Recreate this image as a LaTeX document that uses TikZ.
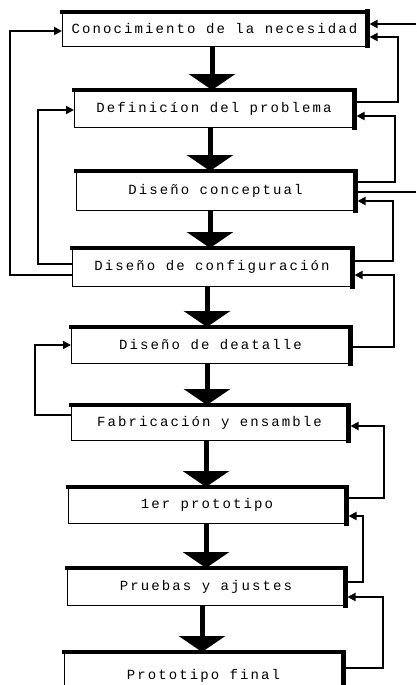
\documentclass[tikz,border=0pt]{standalone}
\usepackage{fontspec}
\newfontfamily\dotfont[LetterSpace=15]{Liberation Mono}
\usetikzlibrary{arrows.meta}
\tikzset{
  x=1pt, y=-1pt,
  box/.style={draw, line width=0.8pt, inner sep=0pt, outer sep=0pt,
    font=\dotfont\fontsize{14}{16}\selectfont},
  bigarr/.style={line width=5pt, -{Triangle[length=16pt,width=46pt]}},
  fb/.style={line width=1.8pt, line join=miter, -{Triangle[length=8pt,width=8pt]}},
  fbplain/.style={line width=1.8pt},
  topedge/.style={line width=3.5pt, line cap=rect},
  rightedge/.style={line width=5pt, line cap=rect}
}
\begin{document}
\begin{tikzpicture}
\clip (0,0) rectangle (416,685);
\fill[white] (0,0) rectangle (416,685);

\node[box, minimum width=305pt, minimum height=34pt] (b1) at (214.5,29) {Conocimiento de la necesidad};
\node[box, minimum width=280pt, minimum height=37pt] (b2) at (214,108.5) {Definicíon del problema};
\node[box, minimum width=279pt, minimum height=39pt] (b3) at (215.5,190.5) {Diseño conceptual};
\node[box, minimum width=280pt, minimum height=38pt] (b4) at (212,267) {Diseño de configuración};
\node[box, minimum width=279pt, minimum height=36pt] (b5) at (210.5,345) {Diseño de deatalle};
\node[box, minimum width=277pt, minimum height=35pt] (b6) at (209.5,422.5) {Fabricación y ensamble};
\node[box, minimum width=278pt, minimum height=36pt] (b7) at (207,505) {1er prototipo};
\node[box, minimum width=278pt, minimum height=37pt] (b8) at (206,586.5) {Pruebas y ajustes};
\node[box, minimum width=279pt, minimum height=48pt] (b9) at (203.5,676) {Prototipo final};

% thick top and right edges
\foreach \n in {b1,b2,b3,b4,b5,b6,b7,b8,b9}{
  \draw[topedge] (\n.north west) -- (\n.north east);
  \draw[rightedge] (\n.north east) -- (\n.south east);
}

% main downward arrows
\coordinate (x1) at (212,0);
\coordinate (x2) at (210,0);
\coordinate (x3) at (210,0);
\coordinate (x4) at (207,0);
\coordinate (x5) at (207,0);
\coordinate (x6) at (206,0);
\coordinate (x7) at (206,0);
\coordinate (x8) at (202,0);
\draw[bigarr] (b1.south -| x1) -- (b2.north -| x1);
\draw[bigarr] (b2.south -| x2) -- (b3.north -| x2);
\draw[bigarr] (b3.south -| x3) -- (b4.north -| x3);
\draw[bigarr] (b4.south -| x4) -- (b5.north -| x4);
\draw[bigarr] (b5.south -| x5) -- (b6.north -| x5);
\draw[bigarr] (b6.south -| x6) -- (b7.north -| x6);
\draw[bigarr] (b7.south -| x7) -- (b8.north -| x7);
\draw[bigarr] (b8.south -| x8) -- (b9.north -| x8);

% left feedback loops
\draw[fb] ([yshift=-8pt]b4.west) -- ++(-62,0) |- ([yshift=-2pt]b1.west);
\draw[fb] ([yshift=3pt]b4.west) -- ++(-34,0) |- ([yshift=-1.5pt]b2.west);
\draw[fb] ([yshift=7.5pt]b6.west) -- ++(-36,0) |- (b5.west);

% right feedback loops
\coordinate (in1) at (416,24);
\coordinate (in2) at (416,192);
\draw[fb] (in1) -- ([xshift=2.5pt,yshift=5pt]b1.east);
\draw[fb] ([yshift=6.5pt]b2.east) -- ++(44,0) |- ([xshift=2.5pt,yshift=-8pt]b1.east);
\draw[fb] ([yshift=8.5pt]b3.east) -- ++(40,0) |- ([xshift=2.5pt,yshift=-7.5pt]b2.east);
\draw[fbplain] (in2) -- ([yshift=-1.5pt]b3.east);
\draw[fb] ([yshift=6pt]b4.east) -- ++(41,0) |- ([xshift=2.5pt,yshift=-10.5pt]b3.east);
\draw[fb] ([yshift=-2pt]b5.east) -- ++(44,0) |- ([xshift=2.5pt,yshift=-8pt]b4.east);
\draw[fb] ([yshift=7pt]b7.east) -- ++(38,0) |- ([xshift=2.5pt,yshift=-3.5pt]b6.east);
\draw[fb] ([yshift=4.5pt]b8.east) -- ++(18,0) |- ([xshift=2.5pt,yshift=-11pt]b7.east);
\draw[fb] ([yshift=8pt]b9.east) -- ++(40,0) |- ([xshift=2.5pt,yshift=-10.5pt]b8.east);
\end{tikzpicture}
\end{document}
